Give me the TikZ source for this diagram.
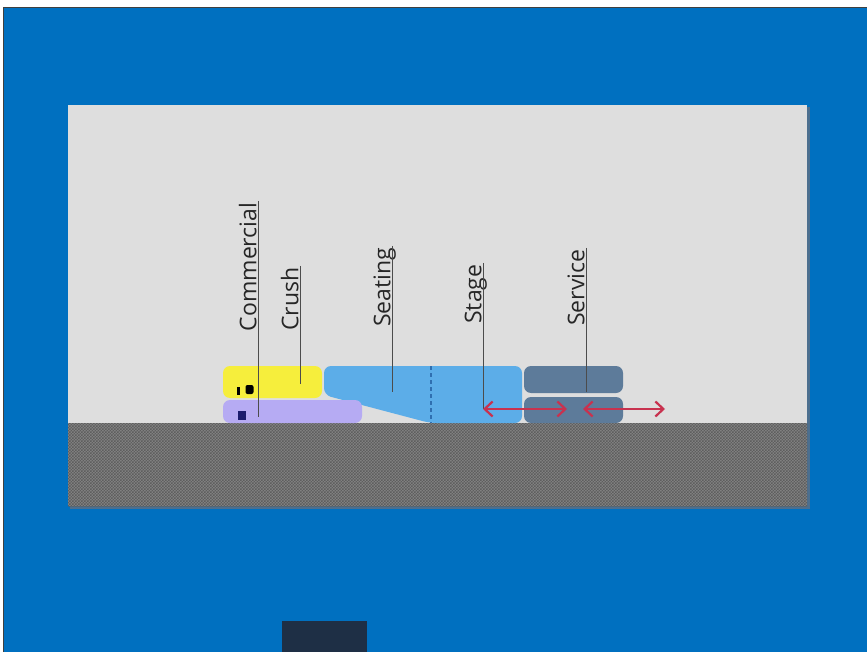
\documentclass[tikz,border=0pt]{standalone}
\usepackage{fontspec}
\setmainfont{Open Sans}
\usepackage{xcolor}
\usetikzlibrary{arrows.meta,patterns}

\definecolor{frameblue}{HTML}{0070C0}
\definecolor{panelgray}{HTML}{DEDEDE}
\definecolor{panelshade}{HTML}{4C6F8F}
\definecolor{groundgray}{HTML}{858585}
\definecolor{grounddark}{HTML}{5E5E5E}
\definecolor{crushyellow}{HTML}{F6EE3C}
\definecolor{commlilac}{HTML}{B6ABF3}
\definecolor{seatblue}{HTML}{5CADE8}
\definecolor{seatline}{HTML}{2F6FB0}
\definecolor{serviceslate}{HTML}{5D7B9A}
\definecolor{movered}{HTML}{C8324F}
\definecolor{footnavy}{HTML}{1E2F45}
\definecolor{marknavy}{HTML}{1C1C6E}

\pgfdeclarepatternformonly{finechecks}{\pgfpointorigin}{\pgfqpoint{3.05pt}{3.05pt}}{\pgfqpoint{3pt}{3pt}}{
  \pgfpathrectangle{\pgfqpoint{0pt}{0pt}}{\pgfqpoint{1.55pt}{1.55pt}}
  \pgfpathrectangle{\pgfqpoint{1.5pt}{1.5pt}}{\pgfqpoint{1.55pt}{1.55pt}}
  \pgfusepath{fill}}

\begin{document}
\begin{tikzpicture}[x=1pt, y=-1pt,
  zone/.style={rounded corners=7pt},
  lbl/.style={rotate=90, anchor=south east, inner sep=1.5pt, text depth=0pt,
              font=\fontsize{23}{25}\selectfont, text=black!85},
  lead/.style={draw=black!70, line width=0.8pt},
  move/.style={{Straight Barb[length=8pt,width=15pt]}-{Straight Barb[length=8pt,width=15pt]},
               draw=movered, line width=2.2pt}
]
\clip (0,0) rectangle (867,652);
\fill[white] (0,0) rectangle (867,652);
\filldraw[fill=frameblue, draw=black!75, line width=1.2pt] (3.5,7.5) rectangle (900,700);
\fill[footnavy] (282,621) rectangle (367,660);

% panel and ground
\fill[panelshade] (70,107) rectangle (810,509);
\fill[panelgray] (68,105) rectangle (807,506);
\fill[groundgray] (68,423) rectangle (807,506);
\fill[pattern=finechecks, pattern color=grounddark] (68,423) rectangle (807,506);

% zones
\fill[zone, seatblue] (430,423) -- (324,395) -- (324,366) -- (522,366) -- (522,423) -- cycle;
\draw[seatline, dash pattern=on 4pt off 3pt, line width=1.2pt] (431,366) -- (431,423);
\fill[zone, crushyellow] (223,366) rectangle (322,398);
\fill[zone, commlilac] (223,400) rectangle (362,423);
\fill[zone, serviceslate] (524,366) rectangle (623,393);
\fill[zone, serviceslate] (524,397) rectangle (623,423);
\fill[black] (236.5,387) rectangle (239.5,394.5);
\fill[black, rounded corners=2pt] (245.5,385) rectangle (253.5,394);
\fill[marknavy] (238,411) rectangle (245.5,419.5);

% labels
\node[lbl] (commercial) at (258,201) {Commercial};
\node[lbl] (crush)      at (300,266) {Crush};
\node[lbl] (seating)    at (392,246) {Seating};
\node[lbl] (stage)      at (483,263) {Stage};
\node[lbl] (service)    at (586,248) {Service};

\coordinate (commercialpt) at (258,417);
\coordinate (crushpt)      at (300,384);
\coordinate (seatingpt)    at (392,392);
\coordinate (stagept)      at (483,409);
\coordinate (servicept)    at (586,392);
\coordinate (stageend)     at (567,409);
\coordinate (servstart)    at (583,409);
\coordinate (servend)      at (665,409);

\draw[lead] (commercial.south east) -- (commercialpt);
\draw[lead] (crush.south east) -- (crushpt);
\draw[lead] (seating.south east) -- (seatingpt);
\draw[lead] (stage.south east) -- (stagept);
\draw[lead] (service.south east) -- (servicept);

\draw[move] (stagept) -- (stageend);
\draw[move] (servstart) -- (servend);
\end{tikzpicture}
\end{document}
